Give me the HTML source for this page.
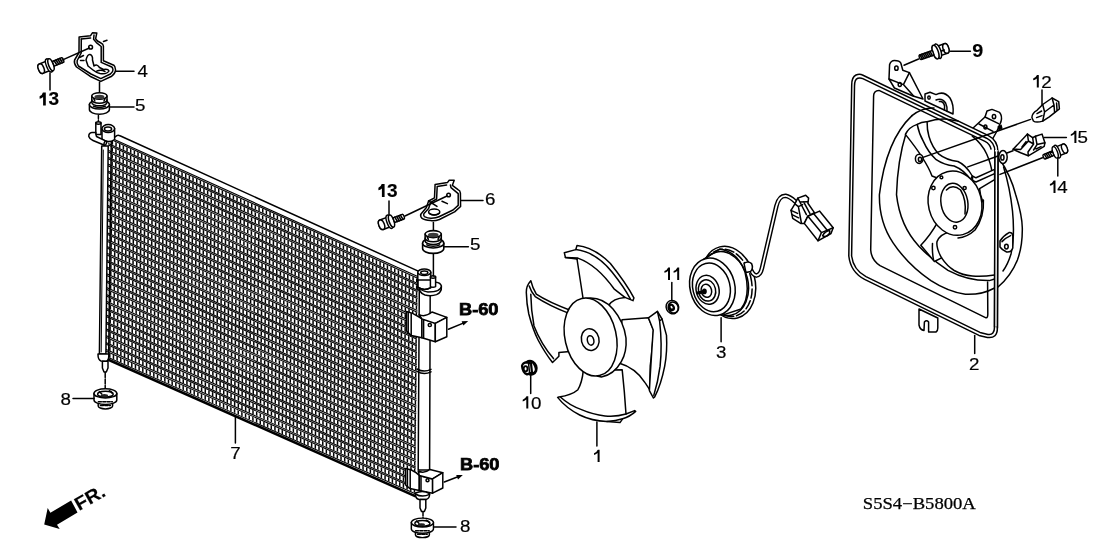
<!DOCTYPE html>
<html><head><meta charset="utf-8">
<style>
html,body{margin:0;padding:0;background:#fff;}
svg{display:block;}
text{font-family:"Liberation Sans",sans-serif;fill:#000;}
.b{font-weight:bold;stroke:#000;stroke-width:0.15;}
.bb{font-weight:bold;stroke:#000;stroke-width:0.75;}
.r{stroke:#000;stroke-width:0.2;}
.s{fill:none;stroke:#000;stroke-width:1.5;stroke-linecap:round;stroke-linejoin:round;}
.w{fill:#fff;stroke:#000;stroke-width:1.5;stroke-linecap:round;stroke-linejoin:round;}
.t{fill:none;stroke:#000;stroke-width:1.0;stroke-linecap:round;stroke-linejoin:round;}
.k{fill:#000;stroke:none;}
g#labels{opacity:0.999;}
</style></head><body>
<svg width="1108" height="553" viewBox="0 0 1108 553">
<defs>

<g id="bolt">
<path class="w" d="M-9,-5 L0,-5 L0,5 L-9,5 A2.6,5 0 0 1 -9,-5 Z"/>
<ellipse class="w" cx="-9" cy="0" rx="2.8" ry="5" stroke-width="1.56"/>
<ellipse class="w" cx="-0.5" cy="0" rx="2.6" ry="7" stroke-width="1.80"/>
<ellipse class="w" cx="1.6" cy="0" rx="2.4" ry="6.4" stroke-width="1.56"/>
<path class="w" d="M4,-2.5 L14,-2.5 A1,2.5 0 0 1 14,2.5 L4,2.5 Z" stroke-width="1.56"/>
<path class="s" d="M6,-2.5 L7,2.5 M8,-2.5 L9,2.5 M10,-2.5 L11,2.5 M12,-2.5 L13,2.5"/>
</g>
<g id="bolt9">
<path class="w" d="M-9,-5 L0,-5 L0,5 L-9,5 A2.6,5 0 0 1 -9,-5 Z"/>
<ellipse class="w" cx="-9" cy="0" rx="2.8" ry="5" stroke-width="1.56"/>
<path class="s" d="M-7,-1 L-1,-1"/>
<ellipse class="w" cx="-0.5" cy="0" rx="3" ry="7.6" stroke-width="1.8"/>
<ellipse class="w" cx="2" cy="0" rx="2.8" ry="7.2" stroke-width="1.56"/>
<path class="w" d="M4.4,-2.4 L18,-2.4 A1,2.4 0 0 1 18,2.4 L4.4,2.4 Z" stroke-width="1.56"/>
<path class="s" d="M6,-2.4 L7,2.4 M7.8,-2.4 L8.8,2.4 M9.6,-2.4 L10.6,2.4 M11.4,-2.4 L12.4,2.4 M13.2,-2.4 L14.2,2.4 M15,-2.4 L16,2.4 M16.8,-2.4 L17.6,2.4" stroke-width="1.2"/>
</g>
<g id="g5">
<path class="w" d="M-10,0 L-10,5 A10,4.6 0 0 0 10,5 L10,0 Z" stroke-width="1.9"/>
<ellipse class="w" cx="0" cy="0" rx="10" ry="4.5" stroke-width="1.9"/>
<path class="s" d="M-6,1.6 A7,2.6 0 0 0 6,1.6" stroke-width="1.3"/>
<path class="w" d="M-7.6,-8.6 L-7.6,-2 A7.6,3.2 0 0 0 7.6,-2 L7.6,-8.6 Z" stroke-width="1.9"/>
<path class="s" d="M-7.6,-4.6 A7.6,3.2 0 0 0 7.6,-4.6" stroke-width="1.7"/>
<ellipse class="w" cx="0" cy="-8.6" rx="7.6" ry="3.3" stroke-width="2"/>
<ellipse cx="0" cy="-7.7" rx="5" ry="2.2" fill="#3a3a3a"/>
<path class="s" d="M-5.6,-6 L-4.6,-3.6 M5.6,-6 L4.6,-3.6" stroke-width="1.3"/>
</g>
<g id="g8">
<path class="w" d="M-7.2,6 L-7.2,12.5 A7.2,3 0 0 0 7.2,12.5 L7.2,6 Z" stroke-width="1.9"/>
<path class="w" d="M-11.4,0 L-11.4,6.5 A11.4,4.5 0 0 0 11.4,6.5 L11.4,0 Z" stroke-width="1.9"/>
<ellipse class="w" cx="0" cy="0" rx="11.4" ry="4.6" stroke-width="2"/>
<ellipse class="s" cx="0" cy="0.8" rx="7.8" ry="2.9" stroke-width="1.6"/>
<ellipse cx="-1" cy="2.2" rx="3.6" ry="1.5" fill="#222"/>
<path class="s" d="M-6,-1.6 L-3.6,0.6 M4,-2.6 Q6,-2 6.6,-0.4" stroke-width="1.4"/>
<path class="s" d="M-7,8.4 L7,8.4 M-5,12 L5,12" stroke-width="1.9" stroke-dasharray="3 1.4"/>
</g>
</defs>
<rect width="1108" height="553" fill="#fff"/>
<!--CONDENSER-->
<g id="cond">
<g>
<path d="M111.00,137.60L417.70,276.10L415.30,495.90L108.30,359.70Z" fill="#fff"/>
<path d="M112.42,139.31L109.72,360.11M116.08,140.97L113.39,361.74M119.75,142.63L117.06,363.37M123.42,144.29L120.73,365.00M127.09,145.95L124.40,366.63M130.75,147.61L128.07,368.26M134.42,149.27L131.74,369.89M138.09,150.93L135.41,371.53M141.75,152.58L139.08,373.16M145.42,154.24L142.75,374.79M149.09,155.90L146.42,376.42M152.75,157.56L150.09,378.05M156.42,159.22L153.77,379.68M160.09,160.88L157.44,381.31M163.76,162.54L161.11,382.94M167.42,164.19L164.78,384.57M171.09,165.85L168.45,386.21M174.76,167.51L172.12,387.84M178.42,169.17L175.79,389.47M182.09,170.83L179.46,391.10M185.76,172.49L183.13,392.73M189.43,174.15L186.80,394.36M193.09,175.81L190.47,395.99M196.76,177.46L194.14,397.62M200.43,179.12L197.81,399.26M204.09,180.78L201.48,400.89M207.76,182.44L205.15,402.52M211.43,184.10L208.83,404.15M215.09,185.76L212.50,405.78M218.76,187.42L216.17,407.41M222.43,189.08L219.84,409.04M226.10,190.73L223.51,410.67M229.76,192.39L227.18,412.30M233.43,194.05L230.85,413.94M237.10,195.71L234.52,415.57M240.76,197.37L238.19,417.20M244.43,199.03L241.86,418.83M248.10,200.69L245.53,420.46M251.77,202.34L249.20,422.09M255.43,204.00L252.87,423.72M259.10,205.66L256.54,425.35M262.77,207.32L260.21,426.98M266.43,208.98L263.89,428.62M270.10,210.64L267.56,430.25M273.77,212.30L271.23,431.88M277.43,213.96L274.90,433.51M281.10,215.61L278.57,435.14M284.77,217.27L282.24,436.77M288.44,218.93L285.91,438.40M292.10,220.59L289.58,440.03M295.77,222.25L293.25,441.66M299.44,223.91L296.92,443.30M303.10,225.57L300.59,444.93M306.77,227.22L304.26,446.56M310.44,228.88L307.93,448.19M314.11,230.54L311.60,449.82M317.77,232.20L315.27,451.45M321.44,233.86L318.95,453.08M325.11,235.52L322.62,454.71M328.77,237.18L326.29,456.34M332.44,238.84L329.96,457.98M336.11,240.49L333.63,459.61M339.77,242.15L337.30,461.24M343.44,243.81L340.97,462.87M347.11,245.47L344.64,464.50M350.78,247.13L348.31,466.13M354.44,248.79L351.98,467.76M358.11,250.45L355.65,469.39M361.78,252.11L359.32,471.03M365.44,253.76L362.99,472.66M369.11,255.42L366.66,474.29M372.78,257.08L370.33,475.92M376.45,258.74L374.01,477.55M380.11,260.40L377.68,479.18M383.78,262.06L381.35,480.81M387.45,263.72L385.02,482.44M391.11,265.37L388.69,484.07M394.78,267.03L392.36,485.71M398.45,268.69L396.03,487.34M402.11,270.35L399.70,488.97M405.78,272.01L403.37,490.60M409.45,273.67L407.04,492.23M413.12,275.33L410.71,493.86M416.78,276.99L414.38,495.49" fill="none" stroke="#000" stroke-width="1.5"/>
<path d="M108.30,137.45L417.70,277.40M108.22,144.31L417.62,284.19M108.13,151.17L417.55,290.97M108.05,158.03L417.47,297.76M107.96,164.89L417.40,304.55M107.88,171.75L417.32,311.34M107.79,178.61L417.25,318.12M107.71,185.47L417.18,324.91M107.62,192.33L417.10,331.70M107.54,199.19L417.02,338.49M107.46,206.05L416.95,345.27M107.37,212.91L416.88,352.06M107.29,219.77L416.80,358.85M107.20,226.63L416.73,365.64M107.12,233.49L416.65,372.43M107.03,240.36L416.57,379.21M106.95,247.22L416.50,386.00M106.87,254.08L416.43,392.79M106.78,260.94L416.35,399.57M106.70,267.80L416.27,406.36M106.61,274.66L416.20,413.15M106.53,281.52L416.12,419.94M106.44,288.38L416.05,426.73M106.36,295.24L415.98,433.51M106.27,302.10L415.90,440.30M106.19,308.96L415.82,447.09M106.11,315.82L415.75,453.88M106.02,322.68L415.68,460.66M105.94,329.54L415.60,467.45M105.85,336.40L415.53,474.24M105.77,343.26L415.45,481.03M105.68,350.12L415.38,487.81M105.60,356.98L415.30,494.60" fill="none" stroke="#fff" stroke-width="2.7"/>
<path d="M108.30,136.65L417.70,276.60M108.30,138.25L417.70,278.20M108.22,143.51L417.62,283.39M108.22,145.11L417.62,284.99M108.13,150.37L417.55,290.17M108.13,151.97L417.55,291.77M108.05,157.23L417.47,296.96M108.05,158.83L417.47,298.56M107.96,164.09L417.40,303.75M107.96,165.69L417.40,305.35M107.88,170.95L417.32,310.54M107.88,172.55L417.32,312.14M107.79,177.81L417.25,317.32M107.79,179.41L417.25,318.93M107.71,184.67L417.18,324.11M107.71,186.27L417.18,325.71M107.62,191.53L417.10,330.90M107.62,193.13L417.10,332.50M107.54,198.39L417.02,337.69M107.54,199.99L417.02,339.29M107.46,205.25L416.95,344.47M107.46,206.85L416.95,346.07M107.37,212.11L416.88,351.26M107.37,213.71L416.88,352.86M107.29,218.97L416.80,358.05M107.29,220.57L416.80,359.65M107.20,225.83L416.73,364.84M107.20,227.43L416.73,366.44M107.12,232.69L416.65,371.62M107.12,234.29L416.65,373.23M107.03,239.56L416.57,378.41M107.03,241.16L416.57,380.01M106.95,246.42L416.50,385.20M106.95,248.02L416.50,386.80M106.87,253.28L416.43,391.99M106.87,254.88L416.43,393.59M106.78,260.14L416.35,398.77M106.78,261.74L416.35,400.38M106.70,267.00L416.27,405.56M106.70,268.60L416.27,407.16M106.61,273.86L416.20,412.35M106.61,275.46L416.20,413.95M106.53,280.72L416.12,419.14M106.53,282.32L416.12,420.74M106.44,287.58L416.05,425.93M106.44,289.18L416.05,427.53M106.36,294.44L415.98,432.71M106.36,296.04L415.98,434.31M106.27,301.30L415.90,439.50M106.27,302.90L415.90,441.10M106.19,308.16L415.82,446.29M106.19,309.76L415.82,447.89M106.11,315.02L415.75,453.07M106.11,316.62L415.75,454.68M106.02,321.88L415.68,459.86M106.02,323.48L415.68,461.46M105.94,328.74L415.60,466.65M105.94,330.34L415.60,468.25M105.85,335.60L415.53,473.44M105.85,337.20L415.53,475.04M105.77,342.46L415.45,480.23M105.77,344.06L415.45,481.83M105.68,349.32L415.38,487.01M105.68,350.92L415.38,488.61M105.60,356.18L415.30,493.80M105.60,357.78L415.30,495.40" fill="none" stroke="#000" stroke-width="1.1"/>
</g>
</g>
<g id="condframe">
<!-- top outer frame line -->
<path class="s" d="M112.3,139 L116.8,135.6 Q118.2,134.7 120,135.8 L417.7,270.9"/>
<path class="s" d="M111.3,138 L108.6,360" stroke-width="1.7"/>
<!-- bottom edge -->
<path d="M108.3,360 L415.6,496.4" fill="none" stroke="#000" stroke-width="2.2"/>
<!-- left header pipe -->
<path class="w" d="M101.7,146 L99.4,354 L105.9,354 L108.2,146 Z"/>
<path class="t" d="M103.3,150 L101.2,352"/>
<!-- top-left fitting: cylinder -->
<path class="w" d="M102,128.6 L102,139 Q108,144 114.6,139.5 L114.6,128.6 Z"/>
<ellipse class="w" cx="108.3" cy="128.6" rx="6.3" ry="4"/>
<ellipse class="w" cx="108" cy="129" rx="3.6" ry="2" stroke-width="1.68"/>
<!-- small pin -->
<path class="w" d="M95.8,123 L95.8,134.4 L101,134.4 L101,123 Z"/>
<ellipse class="w" cx="98.4" cy="123" rx="2.6" ry="1.2"/>
<!-- elbow stub -->
<path class="w" d="M92,132.5 Q88.5,133 88.8,136.5 Q89.5,139 93,140.5 L104.5,145.2 L106,141.2 L96.5,136.5 Q95.5,134 95.8,132.5 Z"/>
<ellipse class="w" cx="105.3" cy="143.2" rx="1.1" ry="2.2" transform="rotate(20 105.3 143.2)"/>
<!-- bottom-left collar & pin -->
<path class="w" d="M98,354.5 Q98,360 101,361 L106,361.5 Q108.8,360.5 108.8,355.5 L108.8,354 L98,354 Z"/>
<path class="w" d="M102.4,361.3 L102.4,368 L104,372 L106.3,372 L108,368 L108,361.3 Z"/>
</g>
<g id="leftparts">
<!-- bolt 13 left -->
<use href="#bolt" transform="translate(49.5,65.3) rotate(-22)"/>
<path class="s" d="M50,73 L50,90"/>
<!-- bracket 4 -->
<path class="w" stroke-width="1.80" d="M79.1,37 L79,52.5 L74.6,60 Q73.6,63.5 76.5,67 L90,76.2 L100.8,81.4 L111.7,76.2 Q116,72.5 115.5,69.5 Q115,66 113.8,65.2 L103.4,60.8 L103.4,46 Q103.2,44 101,43 L97.5,41 L95.6,38.8 L96.8,33 L92.4,32.8 L90.4,35.8 Z"/>
<path class="s" d="M81.3,39 L81.2,53 L77.2,60.5 Q76.4,63.5 78.4,66 L91,74 L100.8,78.6 L110.4,74 Q113.2,71.5 113,69.8 Q112.6,67.4 111.8,67 L101.2,62.4 L101.2,46.5 L96.4,42.6 L93.6,39.2 L94,35"/>
<path class="s" d="M81.3,39 L90.6,38"/>
<circle class="w" cx="90.6" cy="47.2" r="1.9" stroke-width="1.68"/>
<path class="s" d="M79.5,57.5 L83.5,55.5 M80.5,60.5 L84,60.5 M86,60 Q87.5,54 90,54.5 Q93,55.5 92.5,60 L94,66 Q97,63.5 99.5,67.5 L103.5,69.5 Q108,68.5 109,71 Q107,74.5 100,73.5 Q96,72.5 93,70 L88,66 Z M97,71 Q101,69.5 105,71.5"/>
<path class="s" d="M103.5,41.5 L107,40.2"/>
<path class="s" d="M61.5,60.4 L89.4,48"/>
<path class="s" d="M115.5,71.3 L134,71.3"/>
<!-- grommet 5 left -->
<path class="s" d="M99.5,82 L99.5,93"/>
<use href="#g5" transform="translate(99.4,104.6)"/>
<path class="s" d="M109.5,107 L134,107"/>
<path class="s" d="M98.4,115.5 L98.4,121.5" stroke-dasharray="3 1.5"/>
<!-- grommet 8 left -->
<path class="s" d="M105.2,372.5 L105.2,391" stroke-dasharray="5 1.5"/>
<use href="#g8" transform="translate(105.4,393.4)"/>
<path class="s" d="M73,398.4 L94,398.4"/>
</g>
<g id="rightpipe">
<!-- right edge of core -->
<!-- pipe -->
<path class="w" d="M419.3,290 L418.2,470 L429.6,470 L430.2,290 Z" stroke-width="1.56"/>
<path class="s" d="M417,369 Q424,373 431,369.4 M417,371.4 Q424,375.4 431,371.8"/>
<!-- top fitting cylinder -->
<path class="w" d="M417.8,272.3 L417.8,290 L430.8,290 L430.8,272.3 Z" stroke-width="1.56"/>
<ellipse class="w" cx="424.3" cy="272.3" rx="6.5" ry="3.2" stroke-width="1.68"/>
<ellipse class="w" cx="424.3" cy="272.8" rx="3.6" ry="1.7" stroke-width="1.56"/>
<!-- collar disc -->
<path class="w" d="M419.4,286.5 Q418.6,293 425,295 Q431,296.6 436.5,294.6 Q441.8,292.5 441.4,286.5 Z" stroke-width="1.68"/>
<path class="w" d="M419.4,286.5 Q420,291 428,292 Q441,292 441.4,286 Q440.6,282.6 435.8,282.2 L430.8,282 L430.8,286 L419.4,284.5 Z" stroke-width="1.56"/>
<path class="w" d="M417.8,280 L417.8,287.2 Q424,291.4 430.8,287.6 L430.8,280 Z" stroke="none"/>
<path class="s" d="M417.8,280 L417.8,287.2 Q424,291.4 430.8,287.6 L430.8,280"/>
<!-- pin -->
<path class="w" d="M430.4,277 L430.4,286.6 Q433,288 435.6,286.6 L435.6,277 Z" stroke-width="1.56"/>
<ellipse class="w" cx="433" cy="277" rx="2.6" ry="1.2"/>
<!-- upper bracket -->
<path class="w" d="M406.5,311.4 Q413,312.6 417.9,316.4 L421.9,318.9 L421.9,337.8 L411.4,335.6 L406.5,331 Z" stroke-width="1.6"/>
<path class="s" d="M408.2,312.4 L408.2,332.4 M411.2,313.4 L411.2,335.4" stroke-width="1.3"/>
<path class="w" d="M421.9,318.9 L435.3,323.4 L435.3,341.8 L421.9,337.8 Z" stroke-width="1.6"/>
<path class="s" d="M423.6,319.6 L423.6,338.2" stroke-width="1.2"/>
<path class="w" d="M421.9,318.9 L435.3,323.4 L446.8,317.4 L432,312 Q425,317.6 419.2,314.6 Z" stroke-width="1.6"/>
<path class="w" d="M435.3,323.4 L446.8,317.4 L446.8,336.8 L435.3,341.8 Z" stroke-width="1.6"/>
<circle class="s" cx="429.8" cy="325" r="1.6" stroke-width="1.4"/>
<!-- lower bracket -->
<path class="w" d="M405.6,468.4 Q412,469.4 416,472.6 L419.3,475.4 L419.3,490.4 L410,488.6 L405.6,485 Z" stroke-width="1.6"/>
<path class="s" d="M407.4,469.4 L407.4,486.4 M410.2,470.4 L410.2,488.6" stroke-width="1.3"/>
<path class="w" d="M419.3,475.4 L432.6,478.9 L432.6,493.2 L419.3,490.4 Z" stroke-width="1.6"/>
<path class="s" d="M421,476 L421,490.8" stroke-width="1.2"/>
<path class="w" d="M419.3,475.4 L432.6,478.9 L442.8,472.7 L430,469.4 Q424,474 418.2,471 Z" stroke-width="1.6"/>
<path class="w" d="M432.6,478.9 L442.8,472.7 L442.8,488 L432.6,493.2 Z" stroke-width="1.6"/>
<circle class="s" cx="427.5" cy="480.2" r="1.5" stroke-width="1.4"/>
<!-- lower collar + pin -->
<path class="w" d="M415.4,493 Q415,498.6 419,499.4 L426,499.4 Q429.8,498.6 429.6,493.6 Q423,489.5 415.4,493 Z" stroke-width="1.68"/>
<path class="s" d="M415.4,494 Q422,498 429.6,494.4"/>
<path class="w" d="M420,499.4 L420,508 L421.6,511.6 L424.4,511.6 L425.8,508 L425.8,499.4 Z" stroke-width="1.56"/>
<path class="s" d="M423,512 L423,521" stroke-dasharray="4 1.5"/>
<use href="#g8" transform="translate(422.4,522.6) scale(0.97)"/>
<path class="s" d="M433.8,527 L456,527"/>
<!-- B-60 arrows -->
<path class="s" d="M448.4,329.2 L464.5,322.6"/>
<path class="k" d="M468.2,321 L461.6,321.2 L463.4,325.6 Z"/>
<path class="s" d="M444.3,482 L459.2,476.3"/>
<path class="k" d="M462.8,474.9 L456.2,475 L458,479.4 Z"/>
</g>
<g id="rightparts">
<!-- bolt 13 right -->
<use href="#bolt" transform="translate(390,221.6) rotate(-20.5)"/>
<path class="s" d="M389,201 L389,214.4"/>
<!-- bracket 6 -->
<path class="w" stroke-width="1.80" d="M435.1,184.4 L447.4,182.6 L449.2,180.3 L454.2,180.2 L452.4,185.3 L458,189.6 Q460.2,190.6 460.4,193 L460.6,206.5 L454.6,211.9 L439.4,219.5 Q434.5,221.4 430.7,220.6 Q424.5,220.2 422.1,218.4 Q419.8,216 421,214 L426.4,207.5 L428.6,201 L434.5,197.8 Z"/>
<path class="s" d="M437.2,186.4 L446.6,185 M437.2,186.4 L436.6,199 L430.6,202.4 L428.6,208.6 L424,213.4 Q423,215.4 424.4,216.6 Q428,218.4 431.6,218.2 Q436,218.2 439,216.8 L453,210 L458.2,205.4 L458.2,193.6 L451,187.6 L450.4,185"/>
<ellipse class="w" cx="434.2" cy="212" rx="5.6" ry="3.1" stroke-width="1.68"/>
<path class="s" d="M429.4,213.4 Q434,216.6 439.4,213.2"/>
<circle class="w" cx="448.6" cy="195" r="1.8" stroke-width="1.56"/>
<path class="s" d="M442,201.2 L447.4,203.6 M428.6,201 L437,206.4"/>
<path class="s" d="M405,216 L447,196"/>
<path class="s" d="M461,200.4 L483,200.4"/>
<!-- grommet 5 right -->
<path class="s" d="M433.4,222.6 L433.4,232"/>
<use href="#g5" transform="translate(433.2,243.2) scale(1.06)"/>
<path class="s" d="M444.2,246.8 L468.4,246.8"/>
<path class="s" d="M433.4,254.4 L433.4,276"/>
</g>
<g id="fan">
<!-- top blade -->
<path class="w" d="M577,259 L583.3,300 L600,318 L614,316 Q607,311 609,305 Q613,298.5 624.9,297.4 L633,300.6 L633.9,297.9 Q626,283 610.4,263.5 Q594,247 577,245.4 L575.8,249.6 L564.3,252.7 L565.4,257.4 Z" stroke-width="1.56"/>
<path class="s" d="M575.8,249.6 Q596,252 612,272 Q624,287 630.3,298.8 M565.4,257.4 L577.9,258.1 Q597,265 614,288.8 L624.9,297.4 M577,259 L577.9,258.1"/>
<!-- left blade -->
<path class="w" d="M530.8,280.7 Q526,286 526.3,292.4 Q526.6,304 528.8,314 Q533,330 538.1,340 Q545,353 552.5,362.5 L558.9,356.2 L558.9,352.6 L570,351.4 L572,311 Q548,302 536.3,294.2 Q532.5,288 530.8,280.7 Z" stroke-width="1.56"/>
<path class="s" d="M530.8,294.2 Q531,310 534,326 Q541,344 553.5,358.6 M529.2,286 Q531,291.6 535.2,296.6 Q549,305.6 569,313.4"/>
<!-- right blade -->
<path class="w" d="M622,319.8 L648.4,317.8 L653.6,330 Q652,352 650.2,366.2 Q650,380 649.8,390 Q646,384 644.8,382.4 Q636,368 617.6,362.5 Z" stroke-width="1.56"/>
<path class="w" d="M648.4,317.8 L657.4,311.4 L662,319 L666.5,335.4 Q667.4,352 664.7,366.2 Q661,385 654.7,396.9 L653.4,398 L649.4,390.6 Q650.6,368 653.2,330 Z" stroke-width="1.56"/>
<path class="s" d="M657.4,311.4 L659.6,321 Q662.4,345 660.1,366.2 Q658,382 653.8,395.4 M662,319 L659.6,321"/>
<!-- bottom blade -->
<path class="w" d="M583.3,370.7 Q582,383 577.9,389.7 Q572,395 558.9,396.9 L557.6,397.4 Q566,408 579.7,415 Q592,421 606.8,421.4 L620,422.6 L622.6,418.8 Q630,416.6 635.7,411.4 L634.6,410.6 L626,414 Q624.6,392 622.2,369.8 Z" stroke-width="1.56"/>
<path class="s" d="M560.7,397.2 Q569,405 581.5,409.6 Q593,414.6 605,415.9 Q616,417 626,414 M606.8,421.4 Q616,421 622.6,418.8"/>
<!-- hub -->
<path class="w" d="M585,298.6 Q601,295.6 613,309 Q624,322 626,338 Q627,352 621.3,361.6 Q614,374.6 601.4,377 L597,376 Z" stroke-width="1.56"/>
<ellipse class="w" cx="590.6" cy="337" rx="25.6" ry="39.6" transform="rotate(-13 590.6 337)" stroke-width="1.56"/>
<ellipse class="w" cx="590.2" cy="339.6" rx="8.8" ry="11" transform="rotate(-13 590.2 339.6)" stroke-width="2"/>
<ellipse class="w" cx="590.6" cy="340.4" rx="3.2" ry="4.8" transform="rotate(-13 590.6 340.4)" stroke-width="2"/>
<!-- nut 10 -->
<ellipse cx="530.6" cy="367.7" rx="5.8" ry="6.9" transform="rotate(-20 530.6 367.7)" fill="#fff" stroke="#000" stroke-width="2.4"/>
<ellipse cx="531.6" cy="367.4" rx="3.4" ry="5.6" transform="rotate(-20 531.6 367.4)" fill="none" stroke="#000" stroke-width="1.5"/>
<path d="M522,366 Q522.6,362.6 527,362.4 L531,363.6 L532,372.6 L527,374.4 Q522.6,373 522,366 Z" fill="#fff" stroke="#000" stroke-width="2.2" stroke-linejoin="round"/>
<ellipse cx="525.6" cy="368.8" rx="1.9" ry="2.7" fill="#fff" stroke="#000" stroke-width="1.8"/>
<path class="s" d="M528.6,364 L529.6,373" stroke-width="1.6"/>
<path class="s" d="M530.7,375.6 L530.7,393.4"/>
<path class="s" d="M596.9,422 L596.9,446"/>
</g>
<g id="motor">
<!-- back flange -->
<ellipse class="w" cx="728.6" cy="282.4" rx="26.4" ry="36.6" transform="rotate(-14 728.6 282.4)" stroke-width="1.68"/>
<ellipse class="s" cx="727.4" cy="282.8" rx="24" ry="34.2" transform="rotate(-14 727.4 282.8)" stroke-dasharray="9 3"/>
<!-- body -->
<path class="w" d="M703,259.6 L720,249 Q738,252 745,272 Q751,296 741,309 L724,314.6 Z" stroke-width="1.56"/>
<ellipse class="s" cx="724" cy="283.6" rx="24" ry="32.4" transform="rotate(-14 724 283.6)"/>
<!-- front face -->
<ellipse class="w" cx="712.4" cy="286.8" rx="22.4" ry="29" transform="rotate(-14 712.4 286.8)" stroke-width="1.80"/>
<ellipse class="s" cx="711.4" cy="287.4" rx="18.6" ry="24.6" transform="rotate(-14 711.4 287.4)"/>
<ellipse class="s" cx="707.6" cy="289.8" rx="11.4" ry="14.6" transform="rotate(-14 707.6 289.8)" stroke-width="2.6"/>
<ellipse class="s" cx="707" cy="290.4" rx="8.6" ry="10.8" transform="rotate(-14 707 290.4)" stroke-width="1.68"/>
<ellipse class="s" cx="706.4" cy="290.8" rx="5.2" ry="6.6" transform="rotate(-14 706.4 290.8)" stroke-width="2.6"/>
<ellipse class="k" cx="704.4" cy="291.4" rx="2.4" ry="2.8"/>
<path d="M704,291.6 L697.4,293" stroke="#000" stroke-width="3.12" stroke-linecap="round"/>
<!-- wire -->
<path d="M750,267 Q752,274.6 756.4,275.6 Q760.4,275 762,268 L776.4,206 Q779,195.6 785.6,195.8 Q790,196.6 795,201.4" fill="none" stroke="#000" stroke-width="4.6" stroke-linecap="round"/>
<path d="M750,267 Q752,274.6 756.4,275.6 Q760.4,275 762,268 L776.4,206 Q779,195.6 785.6,195.8 Q790,196.6 795,201.4" fill="none" stroke="#fff" stroke-width="1.7" stroke-linecap="round"/>
<!-- terminal nub -->
<path class="w" d="M744,263.4 Q748,260.6 751.6,263.6 Q753.6,268 750.6,271.6 L746,272.6 Z" stroke-width="1.7"/>
<!-- connector -->
<path class="w" d="M794.9,203.9 L797.8,198.1 L805.7,195.2 L808.6,198.1 L807.9,203.2 L814.4,212.6 L807.9,216.2 L804.3,223.4 L800.6,223.4 L792.7,218.4 L791,210.4 Z" stroke-width="1.9"/>
<path class="s" d="M797.8,198.1 L799.9,202 L807.9,201.7 M799.9,202 L806.4,214.7 M803.6,201.8 L810,213.6 M794.9,203.9 L798.4,206.6 L801.4,223 M791,210.4 L797.6,213.4 M792,214.6 L798.6,217.8 M798.4,206.6 L802.6,204.6" stroke-width="1.7"/>
<path class="w" d="M804.3,223.4 L807.9,216.2 L819.5,211.1 L833.2,227.8 L831,233.5 L818,240.8 Z" stroke-width="1.8"/>
<path class="s" d="M807.9,216.2 L821.4,232.6 L818,240.8 M821.4,232.6 L833.2,227.8 M813.6,213.6 L827.4,230.4" stroke-width="1.5"/>
<path class="s" d="M822.6,235.6 Q825,231.4 829.6,230.6 Q830.6,233 827.6,235.6 Q824.6,237.6 822.6,235.6 Z" stroke-width="1.4"/>
<!-- washer 11 -->
<ellipse class="w" cx="672.4" cy="307.1" rx="6.2" ry="6.8" transform="rotate(-25 672.4 307.1)" stroke-width="1.9"/>
<ellipse class="s" cx="673.2" cy="307.6" rx="4.9" ry="5.6" transform="rotate(-25 673.2 307.6)" stroke-width="1"/>
<ellipse cx="671.5" cy="307.4" rx="3.3" ry="4" transform="rotate(-25 671.5 307.4)" fill="#000"/>
<ellipse cx="671.6" cy="307.2" rx="0.9" ry="1.5" transform="rotate(-35 671.6 307.2)" fill="#fff"/>
<path class="s" d="M671.8,282.6 L671.8,300.2"/>
<path class="s" d="M721.1,317.8 L721.1,341.8"/>
</g>
<g id="shroud">
<!-- ring protruding right (behind frame) -->
<path class="w" d="M999,158 Q1011,176 1015.8,195 Q1022,215 1022.3,227.7 Q1022.6,246 1017.4,260 Q1011,276 998,287 L994,287 L994,150 Z" stroke-width="1.56"/>
<path class="s" d="M1003.6,167 Q1010,188 1012.5,211 Q1015,236 1011,254 Q1008,264 1003,271"/>
<!-- right mount tab -->
<path class="w" d="M1000,241 Q1003,236 1009,232.6 Q1012.4,232 1012.8,236 L1012.8,248 Q1011,252.6 1006.6,252 Q1002,250 1000,247 Z" stroke-width="1.8"/>
<path class="s" d="M1002,241.6 Q1006,237.6 1010.6,235.6"/>
<ellipse class="s" cx="1006.4" cy="246.6" rx="1.8" ry="2.4" stroke-width="1.5"/>
<!-- top-left tab -->
<path class="w" d="M889,79 L889.6,64.4 Q891,60.4 894.4,60.4 Q899.6,60.4 900.8,63 L902.8,70.2 L909.4,72.6 L923,99 L913,96 L894.4,88 Z" stroke-width="1.68"/>
<path class="s" d="M889,79 L903.4,84.6 L909.4,72.6 M903.4,84.6 L913.6,96"/>
<ellipse class="s" cx="896.4" cy="68.2" rx="1.7" ry="2.1"/>
<ellipse class="s" cx="899.8" cy="84.6" rx="1.6" ry="2"/>
<!-- top center ear -->
<path class="w" d="M925,101 L925,94 L930,92.2 L936,94.6 Q944,90.4 950,98 Q954,104.6 953,114 L940,108 Z" stroke-width="1.68"/>
<path class="s" d="M936,100 Q942,97.6 945.6,103 Q947.6,107 947,111.4 M939.4,101.6 Q943.4,101 944.6,106 L944.4,110" stroke-width="1.56"/>
<ellipse class="s" cx="929" cy="97.6" rx="1.2" ry="1.6"/>
<!-- top right tab -->
<path class="w" d="M972,129 L985,117 L987,111 L992,109.4 L999.6,112.4 Q1002.6,116 1001,121.6 L997,131 L992,140 Z" stroke-width="1.68"/>
<path class="s" d="M985,117 L998.6,123.6 M979,124 L993,131.4"/>
<ellipse class="s" cx="994" cy="116.6" rx="1.7" ry="2.2"/>
<ellipse class="s" cx="985.4" cy="127" rx="1.5" ry="1.9"/>
<path class="k" d="M997.4,126.6 L1001.6,124.6 L1002.6,128.4 L998.6,130.4 Z"/>
<!-- frame outer -->
<path class="w" d="M851.7,85 Q851.7,77 856,75 Q859.6,73.6 863,75.2 L988,135.4 Q998,140.4 998,152 L997.4,328 Q997.4,338.8 987.4,337.4 L979,335.4 L864.6,279.4 Q850.6,272 848.8,256 Z" stroke-width="1.8"/>
<path class="s" d="M854.5,86 Q854.5,79.6 857.8,78.3 Q860.4,77.5 862.8,78.7 L986.6,138.2 Q995,142.6 995,152 L994.5,327 Q994.5,335.4 988,334.4 L980,332.4 L866,276.6 Q853.4,270 851.6,256 Z"/>
<!-- recessed panel -->
<path class="s" d="M873.6,96 Q873.6,90.6 879,90.4 L985,141.4 Q990,144 991,149 M873.6,96 L870.7,250 Q871.4,260 880,265.6 L986,317.8 Q988,318 987.8,313 L987.6,282"/>
<!-- fan ring arcs left -->
<path class="s" d="M912,115.6 Q886,140 879.4,194.7 Q879,222 893.1,242.8 Q908,265 930.9,280.6 Q948,291.6 965.3,294.3 Q982,295 994.6,288"/>
<path class="s" d="M906,133.6 Q897.6,160 896.5,194.7 Q900,226 918.9,246.2 Q932,260 948,270.3 Q968,281 989.3,280.6 L994.6,279"/>
<path class="s" d="M912,115.6 Q922,107.6 934,108"/>
<!-- back surface visible through opening -->
<path class="s" d="M927.1,121.7 Q936,118.6 945.2,119 L958,121 M972.3,136.2 Q982,144 986.8,154.2 Q991,164 992,172"/>
<!-- top-left spoke -->
<path class="w" d="M905.4,134.4 Q909,127 917.2,124.4 Q922,121.4 927.1,121.7 Q927,130 928.9,136.2 Q932,147 938.9,154.2 Q946,160 957.9,161.5 Q966,165 972.3,176 L970.5,179.6 L958,186 L932,176 Q926,160 905.4,134.4 Z" stroke-width="1.56"/>
<path class="s" d="M917.2,124.4 Q919,134 923.5,141.6 Q928,152 936.2,159.7 Q944,165 954.2,166 Q964,170 970.5,179.6"/>
<!-- right spoke -->
<path class="w" d="M972.3,176 L976,177.8 L994.6,169.4 L994.6,179.6 L979.6,188.6 Q980,196 983,202 L974,196 Z" stroke-width="1.56"/>
<path class="s" d="M970.5,179.6 L976,182 L994.6,173.6"/>
<!-- bottom spoke -->
<path class="w" d="M938,221.7 Q930,236 920.8,245.2 L934.4,261.5 L941.6,257.9 Q936,248 937,241.6 Q940,234 950,232 Z" stroke-width="1.56"/>
<path class="s" d="M932.5,243.4 Q932,252 933.5,259.7"/>
<path class="s" d="M941.6,257.9 Q947,266 954.2,270.5 Q963,275.4 972.3,276 Q982,277 994.6,275"/>
<!-- motor mount ring -->
<ellipse class="w" cx="955" cy="203.2" rx="26.6" ry="32.4" transform="rotate(-14 955 203.2)" stroke-width="1.68"/>
<ellipse class="w" cx="954.4" cy="202.8" rx="13.4" ry="19.6" transform="rotate(-10 954.4 202.8)" stroke-width="1.68"/>
<path class="s" d="M946.4,190 Q952.6,183.6 960.6,190 Q966.6,200 965,214"/>
<path class="s" d="M983.4,200 Q984.4,217 975,230 Q967,237.4 958,238"/>
<circle class="s" cx="941.4" cy="177.4" r="1.4"/><circle class="s" cx="933.4" cy="188" r="1.7"/><circle class="s" cx="964.6" cy="188" r="1.6"/><circle class="s" cx="955" cy="227.3" r="1.7"/>
<!-- screw bosses -->
<ellipse class="w" cx="919.2" cy="158.8" rx="3.8" ry="4.6" stroke-width="1.56"/>
<ellipse class="s" cx="920" cy="159.4" rx="1.6" ry="2.1"/>
<!-- frame right bar on top (cover) -->
<path d="M996.3,150 L996.3,326" stroke="#fff" stroke-width="2.64" fill="none"/>
<path class="s" d="M998,152 L997.4,328 M995,152 L994.5,327"/>
<!-- bottom tab -->
<path class="w" d="M919,309 L919,325 Q920,330 924,330.4 L924.4,322 Q926.6,319.6 928.6,322 L928.6,332 L936,332 Q937.8,331 937.8,328 L937.8,318 Z" stroke-width="1.68"/>
<!-- leader lines crossing -->
<ellipse class="w" cx="1003" cy="157" rx="4.2" ry="6.4" stroke-width="1.56"/><ellipse class="s" cx="1002.4" cy="157.4" rx="1.6" ry="2.6"/>
<path class="s" d="M923,157.4 L1030.6,119.4 M967.8,166.9 L998,156 M1007,153 L1013,150.8 M1000,174.4 L1042.4,157.8"/>
<path class="s" d="M974.7,335.6 L974.7,353.6"/>
<!-- bolt 9 -->
<path class="s" d="M904,65.2 L918.6,59"/>
<use href="#bolt9" transform="translate(937.4,51.4) rotate(161)"/>
<path class="s" d="M950.4,51.2 L970.4,51.2"/>
</g>
<g id="smallparts">
<!-- clip 12 -->
<path class="w" d="M1031.9,117.5 Q1032,113 1037,110.3 L1042.7,104.5 L1052.1,98 L1058.7,101.6 L1059.4,108.8 L1049.3,116.8 L1042.7,121.1 Q1036,123 1033.4,121 Z" stroke-width="2.3"/>
<path class="s" d="M1042.7,104.5 L1044.6,112 L1042.7,121.1 M1044.6,112 L1054,105 L1052.1,98 M1054,105 L1054.6,112.4 M1037,113.6 L1041.6,111 M1036.6,117.6 L1042,115.6 M1056.6,103 L1057,110" stroke-width="1.9"/>
<path class="s" d="M1042,90 L1042,104.4"/>
<!-- clip 15 -->
<path class="w" d="M1013.1,149.3 L1027.5,134.1 L1032.6,137.7 L1035.5,136.3 L1042,134.1 L1044.9,142.8 L1044.2,146.4 L1028.3,155.8 L1020.6,152.8 Z" stroke-width="2.3"/>
<path class="s" d="M1027.5,134.1 L1028.4,141 L1020.6,149.4 L1013.1,149.3 M1028.4,141 L1033.6,144 L1032.6,137.7 M1033.6,144 L1028,152 L1028.3,155.8 M1035.5,136.3 L1037,144.6 L1044.9,142.8 M1037,144.6 L1033.6,150 M1022,147 L1026,141.6 M1036,149 L1041,146.6" stroke-width="1.9"/>
<path class="s" d="M1044.4,137.4 L1066.4,137.4"/>
<!-- bolt 14 -->
<use href="#bolt" transform="translate(1056.6,151.8) rotate(158) scale(0.95)"/>
<path class="s" d="M1057.8,158.4 L1057.8,176"/>
</g>
<!--PARTS-->
<g id="misc">
<path class="k" d="M44.2,524.4 L47.7,508 L50.4,512.8 L71.1,500.4 L77.5,512.4 L57,524.8 L59.7,528.9 Z"/>
<path class="s" d="M235.4,416 L235.4,443"/>
</g>
<!--LABELS-->
<g id="labels">
<text class="r" transform="translate(142.6,77) scale(1.09,1)" text-anchor="middle" font-size="17.2">4</text>
<text class="r" transform="translate(140.2,111) scale(1.09,1)" text-anchor="middle" font-size="17.2">5</text>
<text class="r" transform="translate(65.6,405.1) scale(1.09,1)" text-anchor="middle" font-size="17.2">8</text>
<text class="r" transform="translate(490.1,205.2) scale(1.09,1)" text-anchor="middle" font-size="17.2">6</text>
<text class="r" transform="translate(475.2,250.4) scale(1.09,1)" text-anchor="middle" font-size="17.2">5</text>
<text class="r" transform="translate(465.3,532) scale(1.09,1)" text-anchor="middle" font-size="17.2">8</text>
<text class="r" transform="translate(721.3,358.3) scale(1.09,1)" text-anchor="middle" font-size="17.2">3</text>
<text class="r" transform="translate(974.3,370) scale(1.09,1)" text-anchor="middle" font-size="17.2">2</text>
<text class="r" transform="translate(235.5,458.9) scale(1.09,1)" text-anchor="middle" font-size="17.2">7</text>
<path class="k" d="M526.50,396.20 L528.30,396.20 L528.30,408.60 L526.30,408.60 L526.30,399.60 Q524.50,401.00 522.70,401.40 L522.70,399.70 Q525.50,398.60 526.50,396.20 Z"/>
<text class="r" transform="translate(541.50,408.7) scale(1.09,1)" text-anchor="end" font-size="17.2">0</text>
<path class="k" d="M668.20,267.60 L670.00,267.60 L670.00,280.00 L668.00,280.00 L668.00,271.00 Q666.20,272.40 664.40,272.80 L664.40,271.10 Q667.20,270.00 668.20,267.60 Z"/>
<path class="k" d="M677.40,267.60 L679.20,267.60 L679.20,280.00 L677.20,280.00 L677.20,271.00 Q675.40,272.40 673.60,272.80 L673.60,271.10 Q676.40,270.00 677.40,267.60 Z"/>
<path class="k" d="M1037.00,75.10 L1038.80,75.10 L1038.80,87.50 L1036.80,87.50 L1036.80,78.50 Q1035.00,79.90 1033.20,80.30 L1033.20,78.60 Q1036.00,77.50 1037.00,75.10 Z"/>
<text class="r" transform="translate(1051.70,87.5) scale(1.09,1)" text-anchor="end" font-size="17.2">2</text>
<path class="k" d="M1074.60,130.70 L1076.40,130.70 L1076.40,143.10 L1074.40,143.10 L1074.40,134.10 Q1072.60,135.50 1070.80,135.90 L1070.80,134.20 Q1073.60,133.10 1074.60,130.70 Z"/>
<text class="r" transform="translate(1088.00,143.1) scale(1.09,1)" text-anchor="end" font-size="17.2">5</text>
<path class="k" d="M1053.70,180.50 L1055.50,180.50 L1055.50,192.90 L1053.50,192.90 L1053.50,183.90 Q1051.70,185.30 1049.90,185.70 L1049.90,184.00 Q1052.70,182.90 1053.70,180.50 Z"/>
<text class="r" transform="translate(1067.80,192.9) scale(1.09,1)" text-anchor="end" font-size="17.2">4</text>
<path class="k" d="M597.80,449.70 L599.60,449.70 L599.60,462.10 L597.60,462.10 L597.60,453.10 Q595.80,454.50 594.00,454.90 L594.00,453.20 Q596.80,452.10 597.80,449.70 Z"/>
<path class="k" d="M42.90,92.40 L45.80,92.40 L45.80,105.40 L43.10,105.40 L43.10,97.00 Q41.40,98.40 39.60,98.80 L39.60,96.20 Q42.20,95.20 42.90,92.40 Z"/>
<text class="b" transform="translate(59.00,105.4) scale(1.06,1)" text-anchor="end" font-size="18">3</text>
<path class="k" d="M381.70,183.90 L384.60,183.90 L384.60,196.90 L381.90,196.90 L381.90,188.50 Q380.20,189.90 378.40,190.30 L378.40,187.70 Q381.00,186.70 381.70,183.90 Z"/>
<text class="b" transform="translate(397.60,196.9) scale(1.06,1)" text-anchor="end" font-size="18">3</text>
<text class="b" transform="translate(977.7,57.3) scale(1.1,1)" text-anchor="middle" font-size="18">9</text>
<text class="bb" x="459" y="315.2" font-size="16" textLength="39.5" lengthAdjust="spacingAndGlyphs">B-60</text>
<text class="bb" x="460" y="470" font-size="16" textLength="39.5" lengthAdjust="spacingAndGlyphs">B-60</text>
<text x="862.8" y="509" style="font-family:'Liberation Serif',serif;stroke:#000;stroke-width:0.25" font-size="15.8" textLength="113" lengthAdjust="spacingAndGlyphs">S5S4−B5800A</text>
<g transform="translate(79,511) rotate(-29.5)"><text x="0" y="0" font-size="18.6" font-weight="bold" textLength="32" lengthAdjust="spacingAndGlyphs" style="stroke:#fff;stroke-width:2.6">FR.</text><text class="b" x="0" y="0" font-size="18.6" textLength="32" lengthAdjust="spacingAndGlyphs">FR.</text></g>
</g>
</svg>
</body></html>
